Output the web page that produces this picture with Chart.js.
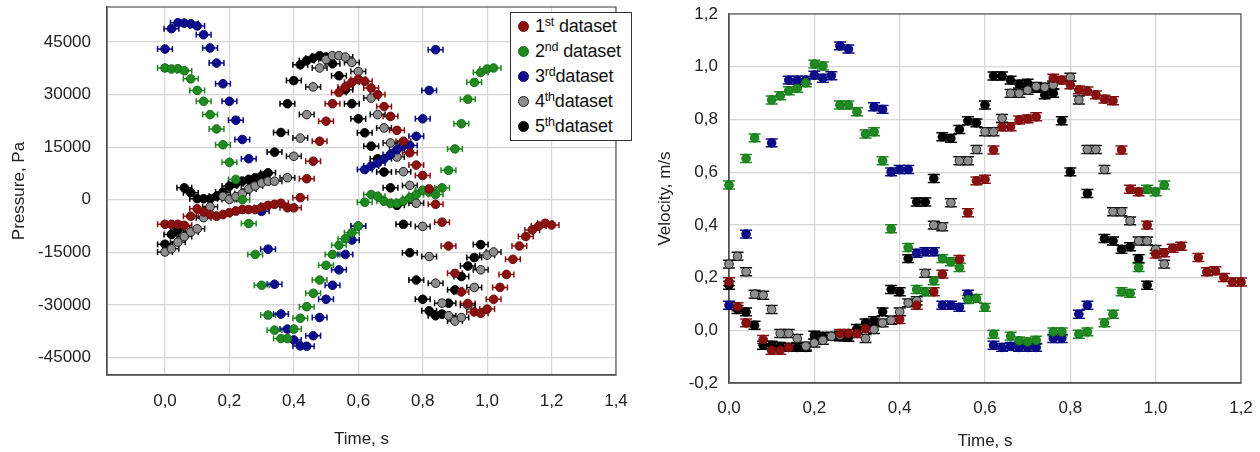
<!DOCTYPE html>
<html>
<head>
<meta charset="utf-8">
<script src="https://cdn.jsdelivr.net/npm/chart.js@4"></script>
<style>
  body { margin: 0; background: #fff; width: 1260px; height: 452px; position: relative; overflow: hidden;
         font-family: 'Liberation Sans', Arial, sans-serif; }
  #pressure { position: absolute; left: 0; top: 0; }
  #velocity { position: absolute; left: 640px; top: 0; }
  #legend { position: absolute; left: 510px; top: 12px; width: 120px; height: 127px;
            border: 1.5px solid #333; background: #fff; font-size: 18px; color: #111; }
  .item { position: absolute; left: 0; height: 25px; width: 120px; }
  .dot { position: absolute; left: 7px; top: 7px; width: 9px; height: 9px; border-radius: 50%; border: 1px solid; }
  .txt { position: absolute; left: 24px; top: 1px; white-space: nowrap; line-height: 22px; letter-spacing: -0.2px; }
  .txt sup { font-size: 12.5px; vertical-align: 6px; line-height: 0; }
</style>
</head>
<body>
<canvas id="pressure" width="640" height="452"></canvas>
<canvas id="velocity" width="620" height="452"></canvas>
<div id="legend"></div>
<script>
// --- pressure chart: [time s, pressure Pa]
const pressure1 = [[0,-7000],[0.02,-7000],[0.04,-7000],[0.06,-7300],[0.08,-4700],[0.10,-2600],[0.12,-3500],[0.14,-4200],[0.16,-4700],[0.18,-4200],[0.20,-3700],[0.22,-3200],[0.24,-2800],[0.26,-2800],[0.28,-2800],[0.30,-2200],[0.32,-1600],[0.34,-1300],[0.36,-1000],[0.38,-2300],[0.40,-2300],[0.42,600],[0.44,6000],[0.46,11000],[0.48,16700],[0.50,22400],[0.52,27400],[0.54,30600],[0.56,32200],[0.58,33500],[0.60,34400],[0.62,33800],[0.64,31900],[0.66,30000],[0.68,26600],[0.70,23800],[0.72,19800],[0.74,16700],[0.76,13400],[0.78,9900],[0.80,6900],[0.82,3100],[0.84,-1300],[0.86,-6400],[0.88,-13200],[0.90,-21000],[0.92,-26300],[0.94,-29600],[0.96,-32000],[0.98,-32400],[1.00,-31200],[1.02,-28400],[1.04,-25000],[1.06,-21300],[1.08,-17000],[1.10,-13200],[1.12,-10500],[1.14,-8600],[1.16,-7500],[1.18,-6700],[1.20,-7200]];
const pressure2 = [[0,37600],[0.02,37300],[0.04,37400],[0.06,36800],[0.08,34500],[0.10,31200],[0.12,28100],[0.14,24300],[0.16,20200],[0.18,15700],[0.20,10700],[0.22,5800],[0.24,0],[0.26,-6800],[0.28,-15600],[0.30,-24400],[0.32,-32900],[0.34,-37200],[0.36,-39600],[0.38,-39600],[0.40,-36900],[0.42,-33800],[0.44,-30500],[0.46,-26700],[0.48,-22900],[0.50,-18700],[0.52,-15600],[0.54,-13000],[0.56,-11100],[0.58,-9400],[0.60,-7500],[0.62,-700],[0.64,1500],[0.66,1000],[0.68,-400],[0.70,-1000],[0.72,-1000],[0.74,-400],[0.76,600],[0.78,1500],[0.80,2700],[0.82,2200],[0.84,1500],[0.86,3400],[0.88,8400],[0.90,14500],[0.92,21700],[0.94,28700],[0.96,33500],[0.98,36300],[1.00,37300],[1.02,37600]];
const pressure3 = [[0,43000],[0.02,48800],[0.04,50500],[0.06,50400],[0.08,50200],[0.10,49600],[0.12,47100],[0.14,43300],[0.16,39000],[0.18,33100],[0.20,28100],[0.22,22700],[0.24,17200],[0.26,11700],[0.30,-3300],[0.32,-14100],[0.34,-24100],[0.36,-32600],[0.38,-36900],[0.40,-40000],[0.42,-41700],[0.44,-41800],[0.46,-38800],[0.48,-33600],[0.50,-28400],[0.52,-24400],[0.54,-20000],[0.56,-15600],[0.58,-11500],[0.60,-7500],[0.62,8600],[0.64,9600],[0.66,10500],[0.68,11700],[0.70,12900],[0.72,14300],[0.74,15500],[0.76,15500],[0.78,18100],[0.80,23100],[0.82,31200],[0.84,42800]];
const pressure4 = [[0,-14900],[0.02,-14000],[0.04,-12100],[0.06,-10500],[0.08,-9200],[0.10,-8300],[0.12,-5100],[0.14,-2000],[0.18,1000],[0.20,100],[0.22,900],[0.24,1800],[0.26,3100],[0.28,3900],[0.30,4800],[0.32,5300],[0.34,5300],[0.38,6300],[0.40,12400],[0.42,17600],[0.44,24300],[0.46,32200],[0.48,37600],[0.50,40000],[0.52,41100],[0.54,41100],[0.56,40700],[0.58,39200],[0.60,36600],[0.64,29000],[0.66,24300],[0.68,20500],[0.70,16200],[0.72,12200],[0.74,8000],[0.76,4100],[0.78,-1000],[0.80,-7600],[0.82,-16200],[0.84,-23800],[0.86,-29500],[0.88,-33100],[0.90,-34600],[0.92,-33600],[0.94,-30100],[0.96,-25000],[0.98,-20000],[1.00,-15800],[1.02,-14900]];
const pressure5 = [[0,-12700],[0.02,-9900],[0.04,-8600],[0.06,3400],[0.08,2000],[0.10,300],[0.12,300],[0.14,300],[0.16,1000],[0.18,2200],[0.20,3900],[0.22,4600],[0.24,5300],[0.26,5800],[0.28,6300],[0.30,6800],[0.32,7700],[0.34,13600],[0.36,19200],[0.38,27400],[0.40,34000],[0.42,38500],[0.44,39700],[0.46,40400],[0.48,41100],[0.50,40700],[0.52,38800],[0.54,35400],[0.56,31400],[0.58,27400],[0.60,23100],[0.62,19100],[0.64,15300],[0.66,11700],[0.68,7900],[0.70,3400],[0.72,-1600],[0.74,-7000],[0.76,-15100],[0.78,-22900],[0.80,-28400],[0.82,-31700],[0.84,-33100],[0.86,-32600],[0.88,-29500],[0.90,-25700],[0.92,-21900],[0.94,-18900],[0.96,-16500],[0.98,-12800]];

// --- velocity chart: [time s, velocity m/s]
const velocity1 = [[0,0.184],[0.02,0.089],[0.04,0.028],[0.08,-0.035],[0.10,-0.076],[0.12,-0.076],[0.14,-0.065],[0.26,-0.012],[0.28,-0.012],[0.30,-0.012],[0.32,0.007],[0.40,0.041],[0.44,0.095],[0.48,0.146],[0.50,0.213],[0.54,0.269],[0.56,0.446],[0.58,0.567],[0.60,0.573],[0.62,0.684],[0.64,0.772],[0.66,0.772],[0.68,0.798],[0.70,0.802],[0.72,0.810],[0.76,0.956],[0.78,0.949],[0.80,0.931],[0.82,0.912],[0.84,0.908],[0.86,0.893],[0.88,0.877],[0.90,0.871],[0.92,0.684],[0.94,0.535],[0.96,0.525],[0.98,0.399],[1.00,0.289],[1.02,0.294],[1.04,0.311],[1.06,0.319],[1.10,0.276],[1.12,0.222],[1.14,0.226],[1.16,0.200],[1.18,0.183],[1.20,0.183]];
const velocity2 = [[0,0.551],[0.04,0.652],[0.06,0.730],[0.10,0.874],[0.12,0.890],[0.14,0.909],[0.16,0.918],[0.18,0.939],[0.20,1.010],[0.22,1.003],[0.26,0.855],[0.28,0.855],[0.30,0.829],[0.32,0.745],[0.34,0.753],[0.36,0.643],[0.38,0.385],[0.42,0.314],[0.44,0.155],[0.46,0.146],[0.48,0.188],[0.50,0.272],[0.52,0.260],[0.54,0.238],[0.56,0.117],[0.58,0.121],[0.60,0.087],[0.62,-0.015],[0.66,-0.022],[0.68,-0.040],[0.70,-0.044],[0.72,-0.038],[0.76,-0.006],[0.78,-0.006],[0.82,-0.015],[0.84,-0.006],[0.88,0.028],[0.90,0.061],[0.92,0.146],[0.94,0.140],[0.96,0.238],[0.98,0.535],[1.00,0.525],[1.02,0.551]];
const velocity3 = [[0,0.095],[0.04,0.365],[0.10,0.711],[0.14,0.949],[0.16,0.949],[0.18,0.949],[0.20,0.968],[0.22,0.956],[0.24,0.966],[0.26,1.079],[0.28,1.067],[0.34,0.848],[0.36,0.838],[0.38,0.601],[0.40,0.610],[0.42,0.610],[0.44,0.292],[0.46,0.298],[0.48,0.298],[0.50,0.095],[0.52,0.095],[0.54,0.087],[0.56,0.137],[0.62,-0.057],[0.64,-0.065],[0.66,-0.061],[0.68,-0.065],[0.70,-0.065],[0.72,-0.065],[0.76,-0.031],[0.78,-0.031],[0.82,0.061],[0.84,0.095]];
const velocity4 = [[0,0.251],[0.02,0.281],[0.04,0.222],[0.06,0.137],[0.08,0.133],[0.10,0.079],[0.12,-0.012],[0.14,-0.012],[0.16,-0.031],[0.18,-0.060],[0.20,-0.048],[0.22,-0.038],[0.24,-0.023],[0.26,-0.019],[0.32,-0.031],[0.34,0.003],[0.36,0.028],[0.38,0.038],[0.40,0.070],[0.42,0.104],[0.44,0.112],[0.46,0.216],[0.48,0.399],[0.50,0.393],[0.52,0.484],[0.54,0.643],[0.56,0.643],[0.58,0.686],[0.60,0.753],[0.62,0.753],[0.64,0.804],[0.66,0.899],[0.68,0.899],[0.70,0.911],[0.72,0.925],[0.74,0.922],[0.76,0.931],[0.80,0.960],[0.82,0.874],[0.84,0.686],[0.86,0.686],[0.88,0.610],[0.90,0.450],[0.92,0.450],[0.94,0.415],[0.96,0.339],[0.98,0.339],[1.00,0.307],[1.02,0.251]];
const velocity5 = [[0,0.171],[0.02,0.079],[0.04,0.070],[0.06,0.019],[0.08,-0.057],[0.10,-0.057],[0.12,-0.061],[0.14,-0.065],[0.16,-0.065],[0.18,-0.065],[0.20,-0.019],[0.22,-0.023],[0.24,-0.023],[0.26,-0.025],[0.28,-0.027],[0.30,0.007],[0.32,0.028],[0.34,0.036],[0.36,0.070],[0.38,0.155],[0.40,0.146],[0.42,0.272],[0.44,0.487],[0.46,0.487],[0.48,0.576],[0.50,0.734],[0.52,0.728],[0.54,0.762],[0.56,0.795],[0.58,0.787],[0.60,0.855],[0.62,0.965],[0.64,0.965],[0.66,0.949],[0.68,0.934],[0.70,0.937],[0.72,0.918],[0.74,0.893],[0.76,0.899],[0.78,0.795],[0.80,0.601],[0.84,0.519],[0.88,0.348],[0.90,0.339],[0.92,0.307],[0.94,0.317],[0.96,0.272],[0.98,0.171]];

const timeError = 0.023;      // s, horizontal bars on the pressure chart
const velocityError = 0.015;  // m/s, vertical bars on the velocity chart

const pressureTicksX = [0, 0.2, 0.4, 0.6, 0.8, 1.0, 1.2, 1.4];
const pressureTicksY = [-45000, -30000, -15000, 0, 15000, 30000, 45000];
const velocityTicksX = [0, 0.2, 0.4, 0.6, 0.8, 1.0, 1.2];
const velocityTicksY = [-0.2, 0, 0.2, 0.4, 0.6, 0.8, 1.0, 1.2];

const ordinals = ['st', 'nd', 'rd', 'th', 'th'];
const spaced = [true, true, false, false, false];
const fills = ['#8b1010', '#1f8a1f', '#0b0b8c', '#8e8e8e', '#000000'];
const edges = ['#700c0c', '#17701a', '#06066e', '#1a1a1a', '#000000'];
const bars = ['#8b1010', '#1f8a1f', '#0b0b8c', '#111111', '#000000'];

const FONT = "'Liberation Sans', Arial, sans-serif";
const comma = v => v.toFixed(1).replace('.', ',');

const errorBars = {
  id: 'errorBars',
  beforeDatasetsDraw(chart, args, opts) {
    const { ctx } = chart;
    const xs = chart.scales.x, ys = chart.scales.y;
    ctx.save();
    ctx.lineWidth = 1.5;
    chart.data.datasets.forEach((ds, i) => {
      ctx.strokeStyle = bars[i];
      ds.data.forEach(p => {
        const px = xs.getPixelForValue(p.x), py = ys.getPixelForValue(p.y);
        ctx.beginPath();
        if (opts.axis === 'x') {
          const x0 = xs.getPixelForValue(p.x - opts.err), x1 = xs.getPixelForValue(p.x + opts.err);
          ctx.moveTo(x0, py); ctx.lineTo(x1, py);
          ctx.moveTo(x0, py - opts.cap); ctx.lineTo(x0, py + opts.cap);
          ctx.moveTo(x1, py - opts.cap); ctx.lineTo(x1, py + opts.cap);
        } else {
          const y0 = ys.getPixelForValue(p.y - opts.err), y1 = ys.getPixelForValue(p.y + opts.err);
          ctx.moveTo(px, y0); ctx.lineTo(px, y1);
          ctx.moveTo(px - opts.cap, y0); ctx.lineTo(px + opts.cap, y0);
          ctx.moveTo(px - opts.cap, y1); ctx.lineTo(px + opts.cap, y1);
        }
        ctx.stroke();
      });
    });
    ctx.restore();
  }
};

const frame = {
  id: 'frame',
  beforeDatasetsDraw(chart) {
    const { ctx, chartArea: a } = chart;
    ctx.save();
    ctx.strokeStyle = '#555';
    ctx.lineWidth = 1.2;
    ctx.strokeRect(a.left, a.top, a.right - a.left, a.bottom - a.top);
    ctx.restore();
  }
};

function makeDatasets(series) {
  return series.map((s, i) => ({
    label: (i + 1) + ordinals[i] + ' dataset',
    data: s.map(p => ({ x: p[0], y: p[1] })),
    backgroundColor: fills[i],
    borderColor: edges[i],
    pointRadius: 4.3,
    pointBorderWidth: 1,
    clip: false
  }));
}

function axis(opts) {
  return {
    type: 'linear',
    min: opts.min,
    max: opts.max,
    afterBuildTicks: s => { s.ticks = opts.ticks.map(v => ({ value: v })); },
    afterFit: s => {
      if (opts.width) s.width = opts.width;
      if (opts.height) s.height = opts.height;
      s.paddingTop = 0; s.paddingBottom = 0; s.paddingLeft = 0; s.paddingRight = 0;
    },
    ticks: { callback: opts.format, color: '#222', font: { family: FONT, size: 17 }, padding: opts.pad },
    grid: { color: '#d6d6d6', lineWidth: 1.2, drawTicks: false },
    border: { color: '#444', width: 1.4 },
    title: { display: true, text: opts.title, color: '#222', font: { family: FONT, size: 17 }, padding: opts.titlePad }
  };
}

new Chart(document.getElementById('pressure'), {
  type: 'scatter',
  data: { datasets: makeDatasets([pressure1, pressure2, pressure3, pressure4, pressure5]) },
  options: {
    responsive: false,
    animation: false,
    layout: { padding: { left: 0, top: 7, right: 24, bottom: 0 } },
    plugins: { legend: { display: false }, tooltip: { enabled: false }, errorBars: { axis: 'x', err: timeError, cap: 3 } },
    scales: {
      x: axis({ min: -0.18, max: 1.4, ticks: pressureTicksX, format: comma, height: 77, pad: 16, title: 'Time, s', titlePad: { top: 0, bottom: 2 } }),
      y: axis({ min: -50000, max: 55000, ticks: pressureTicksY, format: v => String(v), width: 107, pad: 16, title: 'Pressure, Pa', titlePad: { top: 9, bottom: 0 } })
    }
  },
  plugins: [frame, errorBars]
});

new Chart(document.getElementById('velocity'), {
  type: 'scatter',
  data: { datasets: makeDatasets([velocity1, velocity2, velocity3, velocity4, velocity5]) },
  options: {
    responsive: false,
    animation: false,
    layout: { padding: { left: 0, top: 14, right: 19, bottom: 0 } },
    plugins: { legend: { display: false }, tooltip: { enabled: false }, errorBars: { axis: 'y', err: velocityError, cap: 6 } },
    scales: {
      x: axis({ min: 0, max: 1.2, ticks: velocityTicksX, format: comma, height: 69, pad: 15, title: 'Time, s', titlePad: { top: 0, bottom: 0 } }),
      y: axis({ min: -0.2, max: 1.2, ticks: velocityTicksY, format: comma, width: 89, pad: 11, title: 'Velocity, m/s', titlePad: { top: 15, bottom: 0 } })
    }
  },
  plugins: [frame, errorBars]
});

// legend with superscript ordinals
const legend = document.getElementById('legend');
const legendTops = [1, 26, 51, 76, 101];
fills.forEach((c, i) => {
  const item = document.createElement('div');
  item.className = 'item';
  item.style.top = legendTops[i] + 'px';
  item.innerHTML = '<span class="dot" style="background:' + c + ';border-color:' + edges[i] + '"></span>' +
    '<span class="txt">' + (i + 1) + '<sup>' + ordinals[i] + '</sup>' + (spaced[i] ? ' ' : '') + 'dataset</span>';
  legend.appendChild(item);
});
</script>
</body>
</html>
